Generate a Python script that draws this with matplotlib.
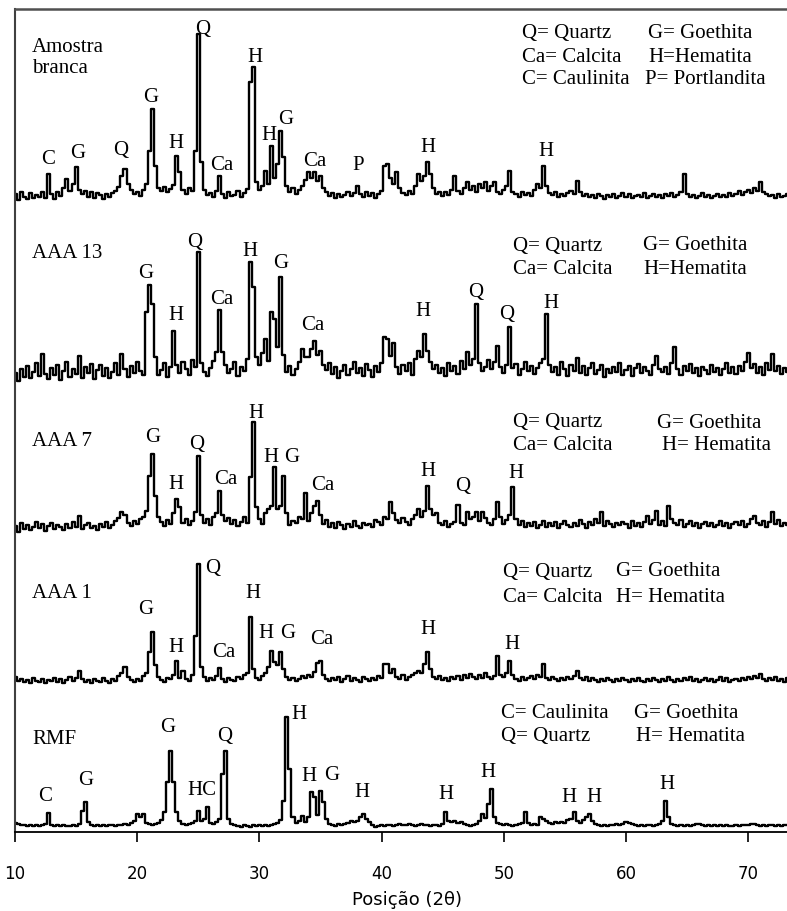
import numpy as np
import matplotlib
matplotlib.use("Agg")
import matplotlib.pyplot as plt

# 2-theta grid of the diffractograms (0.25 degree step)
two_theta = np.arange(10.0, 73.26, 0.25)

# intensities (arbitrary units), one row per degree
amostra_branca = [
    12, 6, 14, 9,  7, 13, 8, 11,  9, 14, 8, 32,  12, 7, 14, 10,
    18, 27, 15, 22,  39, 16, 12, 15,  9, 14, 8, 13,  11, 7, 12, 9,
    13, 15, 19, 30,  37, 22, 16, 12,  14, 10, 16, 22,  55, 97, 40, 18,
    15, 19, 14, 17,  21, 50, 34, 16,  12, 18, 15, 55,  172, 44, 16, 11,
    13, 9, 15, 30,  12, 8, 14, 10,  11, 15, 9, 13,  17, 124, 139, 24,
    16, 20, 35, 22,  60, 28, 42, 75,  49, 20, 14, 18,  12, 16, 20, 26,
    34, 28, 34, 25,  30, 18, 14, 10,  13, 8, 12, 9,  11, 14, 10, 13,
    20, 12, 9, 14,  10, 13, 8, 12,  15, 40, 42, 28,  22, 34, 18, 13,
    11, 15, 12, 20,  32, 25, 30, 44,  32, 18, 12, 14,  10, 14, 11, 16,
    30, 15, 12, 18,  24, 16, 20, 14,  22, 18, 24, 15,  20, 24, 14, 12,
    16, 20, 35, 14,  12, 9, 14, 11,  13, 10, 16, 22,  18, 40, 20, 13,
    11, 14, 9, 12,  10, 13, 15, 12,  25, 14, 10, 12,  9, 11, 8, 12,
    10, 7, 11, 9,  12, 8, 10, 13,  9, 12, 8, 10,  11, 9, 13, 8,
    10, 12, 9, 11,  8, 12, 10, 13,  9, 11, 14, 32,  12, 9, 11, 8,
    10, 13, 9, 11,  8, 10, 12, 9,  11, 9, 13, 10,  12, 15, 11, 14,
    16, 13, 18, 15,  24, 14, 12, 10,  11, 8, 12, 9,  10, 12,
]
aaa_13 = [
    14, 6, 18, 10,  21, 9, 15, 24,  11, 33, 13, 8,  19, 12, 22, 7,
    16, 25, 10, 18,  13, 31, 9, 20,  14, 23, 8, 17,  22, 11, 19, 9,
    15, 24, 12, 33,  18, 10, 21, 14,  25, 16, 12, 75,  102, 83, 30, 12,
    17, 24, 10, 20,  56, 22, 14, 25,  18, 12, 27, 20,  135, 24, 15, 11,
    19, 26, 35, 77,  35, 22, 14, 18,  25, 11, 20, 16,  28, 125, 100, 30,
    22, 34, 48, 26,  75, 68, 40, 110,  32, 15, 21, 12,  18, 25, 38, 30,
    30, 38, 46, 32,  36, 22, 17, 24,  13, 20, 9, 16,  22, 12, 18, 25,
    14, 19, 11, 23,  17, 10, 21, 15,  24, 50, 48, 31,  44, 20, 13, 22,
    16, 24, 12, 28,  36, 30, 53, 36,  25, 18, 22, 14,  19, 11, 24, 16,
    21, 13, 26, 18,  35, 22, 28, 83,  24, 16, 20, 27,  18, 25, 41, 20,
    14, 22, 60, 19,  23, 12, 18, 25,  16, 21, 13, 19,  24, 28, 73, 22,
    15, 20, 12, 25,  18, 11, 22, 16,  29, 14, 21, 12,  19, 24, 13, 17,
    22, 10, 18, 14,  20, 15, 24, 12,  17, 21, 11, 19,  23, 14, 20, 16,
    12, 22, 31, 18,  15, 20, 13, 24,  40, 18, 12, 21,  16, 23, 14, 19,
    11, 20, 17, 13,  22, 15, 19, 12,  18, 24, 14, 20,  13, 21, 16, 25,
    34, 19, 23, 14,  20, 12, 24, 17,  33, 16, 21, 13,  19, 15,
]
aaa_7 = [
    11, 5, 14, 8,  12, 7, 10, 15,  9, 13, 6, 11,  14, 8, 12, 10,
    7, 13, 9, 15,  10, 21, 8, 12,  14, 9, 11, 7,  13, 10, 15, 9,
    12, 16, 19, 25,  22, 14, 11, 16,  13, 18, 20, 26,  61, 83, 41, 20,
    15, 11, 17, 13,  24, 38, 30, 14,  18, 12, 16, 25,  81, 22, 14, 18,
    12, 20, 24, 46,  22, 16, 19, 13,  17, 11, 15, 20,  14, 60, 115, 30,
    18, 13, 24, 28,  31, 70, 28, 31,  61, 24, 12, 16,  14, 20, 18, 44,
    16, 24, 31, 36,  22, 13, 17, 10,  14, 9, 15, 12,  8, 13, 10, 16,
    11, 9, 14, 12,  13, 10, 17, 15,  12, 20, 18, 35,  24, 17, 14, 19,
    15, 12, 18, 22,  28, 20, 26, 51,  28, 22, 24, 14,  12, 16, 10, 13,
    15, 32, 14, 12,  25, 18, 20, 25,  16, 25, 19, 14,  12, 18, 35, 20,
    13, 17, 22, 50,  18, 12, 16, 10,  14, 11, 15, 9,  12, 16, 10, 14,
    11, 15, 9, 13,  16, 12, 10, 14,  11, 17, 13, 9,  15, 12, 18, 14,
    25, 11, 16, 13,  10, 14, 12, 15,  13, 9, 16, 11,  14, 10, 15, 21,
    13, 17, 26, 12,  16, 11, 31, 18,  14, 12, 17, 10,  13, 16, 11, 14,
    9, 13, 15, 11,  14, 10, 12, 16,  11, 14, 9, 13,  15, 12, 16, 10,
    13, 18, 21, 14,  12, 16, 10, 15,  25, 13, 17, 11,  14, 12,
]
aaa_1 = [
    10, 6, 8, 5,  7, 4, 9, 6,  5, 8, 4, 7,  6, 9, 5, 8,
    4, 7, 10, 6,  9, 16, 8, 5,  7, 4, 8, 6,  5, 9, 6, 4,
    8, 6, 11, 14,  20, 10, 7, 5,  8, 6, 11, 14,  35, 55, 22, 10,
    7, 5, 9, 8,  12, 26, 9, 16,  8, 6, 12, 51,  123, 20, 10, 6,
    9, 7, 11, 19,  8, 5, 9, 7,  6, 10, 8, 12,  14, 70, 18, 9,
    7, 11, 14, 20,  36, 25, 22, 35,  18, 10, 7, 9,  6, 8, 11, 9,
    12, 10, 15, 24,  26, 12, 8, 6,  9, 7, 10, 5,  8, 11, 6, 9,
    7, 5, 10, 8,  6, 9, 7, 11,  9, 23, 23, 14,  18, 10, 8, 12,
    7, 10, 12, 14,  16, 14, 23, 35,  18, 10, 8, 11,  7, 9, 6, 10,
    8, 11, 7, 12,  9, 13, 10, 8,  12, 9, 14, 10,  8, 11, 31, 12,
    10, 14, 26, 12,  8, 6, 10, 7,  9, 11, 8, 12,  10, 23, 9, 7,
    10, 8, 6, 9,  7, 10, 8, 11,  16, 9, 7, 10,  6, 9, 7, 5,
    8, 6, 9, 7,  5, 8, 6, 9,  7, 5, 8, 6,  9, 6, 5, 8,
    6, 9, 7, 5,  8, 6, 10, 7,  5, 8, 6, 9,  7, 10, 6, 8,
    5, 7, 9, 6,  8, 5, 7, 10,  6, 9, 5, 7,  8, 6, 9, 7,
    10, 8, 11, 9,  13, 8, 6, 9,  7, 10, 6, 8,  5, 9,
]
rmf = [
    6, 5, 4, 4,  3, 4, 3, 4,  3, 4, 5, 16,  4, 3, 4, 3,
    4, 3, 3, 4,  3, 5, 18, 27,  7, 4, 3, 4,  3, 4, 3, 4,
    4, 3, 4, 4,  5, 4, 6, 8,  15, 12, 15, 6,  5, 4, 5, 6,
    9, 17, 47, 78,  47, 17, 8, 5,  4, 5, 6, 8,  18, 8, 10, 22,
    6, 5, 7, 10,  55, 78, 10, 5,  4, 3, 2, 4,  3, 2, 4, 3,
    4, 3, 4, 3,  4, 5, 6, 9,  28, 112, 60, 12,  6, 8, 13, 7,
    12, 37, 32, 14,  38, 27, 10, 5,  4, 3, 5, 4,  5, 6, 8, 7,
    8, 12, 15, 10,  7, 4, 2, 3,  4, 3, 4, 4,  3, 4, 5, 4,
    4, 5, 4, 3,  4, 5, 4, 4,  3, 4, 4, 3,  5, 17, 8, 7,
    8, 6, 7, 5,  4, 3, 4, 5,  8, 15, 11, 25,  40, 12, 6, 5,
    4, 5, 4, 3,  4, 5, 6, 17,  6, 4, 5, 4,  12, 10, 8, 6,
    5, 7, 6, 7,  6, 9, 10, 17,  8, 6, 9, 12,  15, 8, 5, 4,
    3, 4, 3, 4,  4, 5, 4, 5,  7, 6, 5, 4,  3, 4, 3, 4,
    4, 3, 4, 5,  8, 28, 12, 5,  4, 3, 4, 3,  4, 3, 4, 5,
    5, 4, 3, 4,  3, 4, 3, 4,  3, 4, 3, 3,  4, 3, 4, 4,
    4, 5, 5, 4,  3, 4, 3, 4,  4, 3, 4, 3,  4, 4,
]

patterns = [amostra_branca, aaa_13, aaa_7, aaa_1, rmf]
sample_names = ["Amostra\nbranca", "AAA 13", "AAA 7", "AAA 1", "RMF"]
stack_offset = [626, 445, 295, 145, 3]
name_y = [775, 580, 392, 240, 93]

# phase labels: (text, 2theta, height)
peak_labels = [
    [("C", 12.70, 673), ("G", 15.16, 679), ("Q", 18.67, 682), ("G", 21.13, 735),
     ("H", 23.18, 690), ("Q", 25.38, 804), ("Ca", 26.94, 667), ("H", 29.64, 776),
     ("H", 30.79, 697), ("G", 32.18, 714), ("Ca", 34.55, 672), ("P", 38.07, 667),
     ("H", 43.80, 686), ("H", 53.45, 682)],
    [("G", 20.72, 560), ("H", 23.18, 518), ("Q", 24.73, 590), ("Ca", 26.94, 534),
     ("H", 29.23, 581), ("G", 31.77, 570), ("Ca", 34.39, 508), ("H", 43.39, 522),
     ("Q", 47.73, 540), ("Q", 50.26, 518), ("H", 53.86, 530)],
    [("G", 21.29, 396), ("H", 23.18, 348), ("Q", 24.89, 388), ("Ca", 27.27, 353),
     ("H", 29.72, 419), ("H", 30.95, 375), ("G", 32.67, 375), ("Ca", 35.20, 347),
     ("H", 43.80, 361), ("Q", 46.66, 346), ("H", 51.00, 359)],
    [("G", 20.72, 224), ("H", 23.18, 185), ("Q", 26.20, 264), ("Ca", 27.10, 180),
     ("H", 29.48, 240), ("H", 30.54, 199), ("G", 32.34, 199), ("Ca", 35.12, 193),
     ("H", 43.80, 204), ("H", 50.67, 188)],
    [("C", 12.45, 36), ("G", 15.81, 52), ("G", 22.52, 105), ("HC", 25.30, 42),
     ("Q", 27.18, 96), ("H", 33.24, 118), ("H", 34.06, 56), ("G", 35.94, 57),
     ("H", 38.40, 40), ("H", 45.27, 38), ("H", 48.71, 60), ("H", 55.34, 35),
     ("H", 57.38, 35), ("H", 63.36, 48)],
]

# phase keys beside each pattern: (text, 2theta of left edge, height)
phase_keys = [
    ("Q= Quartz", 51.49, 800), ("G= Goethita", 61.80, 800),
    ("Ca= Calcita", 51.49, 776), ("H=Hematita", 61.80, 776),
    ("C= Caulinita", 51.49, 753), ("P= Portlandita", 61.55, 753),
    ("Q= Quartz", 50.75, 587), ("G= Goethita", 61.39, 587),
    ("Ca= Calcita", 50.75, 564), ("H=Hematita", 61.39, 564),
    ("Q= Quartz", 50.75, 410), ("G= Goethita", 62.54, 410),
    ("Ca= Calcita", 50.75, 387), ("H= Hematita", 62.95, 387),
    ("Q= Quartz", 49.93, 261), ("G= Goethita", 59.18, 261),
    ("Ca= Calcita", 49.93, 236), ("H= Hematita", 59.18, 236),
    ("C= Caulinita", 49.77, 119), ("G= Goethita", 60.65, 119),
    ("Q= Quartz", 49.77, 96), ("H= Hematita", 60.82, 96),
]

serif = "Liberation Serif"

fig = plt.figure(figsize=(7.87, 9.12), dpi=100)
ax = fig.add_axes([15 / 787, 1 - 833 / 912, 772 / 787, 823 / 912])

for values, base in zip(patterns, stack_offset):
    ax.plot(two_theta, np.asarray(values) + base, color="black", lw=1.7,
            drawstyle="steps-mid")

for name, y in zip(sample_names, name_y):
    ax.text(11.39, y, name, family=serif, fontsize=15, ha="left", va="center",
            linespacing=1.1)

for labels in peak_labels:
    for txt, x, y in labels:
        ax.text(x, y, txt, family=serif, fontsize=15, ha="center", va="center")

for txt, x, y in phase_keys:
    ax.text(x, y, txt, family=serif, fontsize=15, ha="left", va="center")

ax.set_xlim(10, 10 + 772 / 12.22)
ax.set_ylim(0, 823)
ax.set_xticks([10, 20, 30, 40, 50, 60, 70])
ax.set_yticks([])
ax.tick_params(axis="x", direction="out", length=7, width=1.2, pad=16,
               labelsize=12)
ax.set_xlabel("Posição (2θ)", fontsize=13)
ax.xaxis.set_label_coords(0.508, -0.071)

ax.spines["right"].set_visible(False)
ax.spines["top"].set_color("#505050")
ax.spines["top"].set_linewidth(1.8)
ax.spines["left"].set_color("#404040")
ax.spines["left"].set_linewidth(1.5)
ax.spines["bottom"].set_linewidth(1.3)

fig.savefig("out.png", dpi=100)
